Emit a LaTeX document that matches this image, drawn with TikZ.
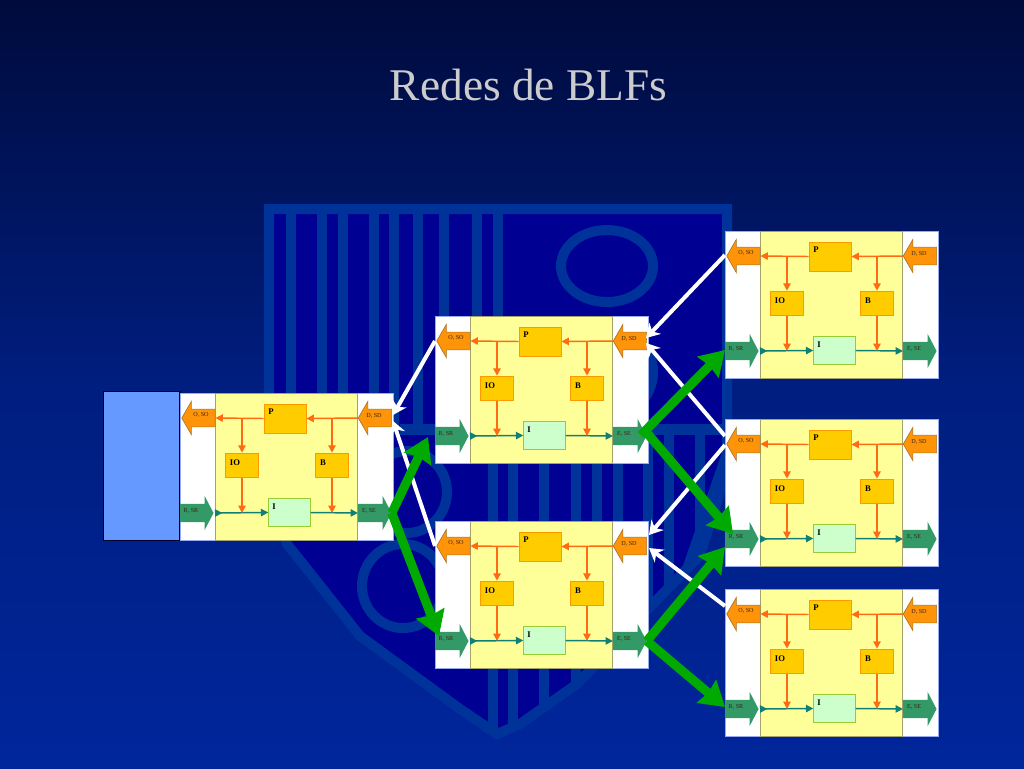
\documentclass[tikz,border=0pt]{standalone}
\usepackage{fontspec}
\setmainfont{Liberation Serif}
\usetikzlibrary{arrows.meta,shapes.arrows}
\definecolor{bgtop}{HTML}{000B3C}
\definecolor{bgbot}{HTML}{00269C}
\definecolor{crestfill}{HTML}{000092}
\definecolor{crestline}{HTML}{003399}
\definecolor{panelline}{HTML}{99AAEE}
\definecolor{coreyellow}{HTML}{FFFF99}
\definecolor{coreline}{HTML}{A3A36B}
\definecolor{boxgold}{HTML}{FFCC00}
\definecolor{boxline}{HTML}{FF9900}
\definecolor{mintfill}{HTML}{CCFFCC}
\definecolor{mintline}{HTML}{99CC33}
\definecolor{sdorange}{HTML}{FF9408}
\definecolor{sdline}{HTML}{A8752A}
\definecolor{srgreen}{HTML}{339966}
\definecolor{wireorange}{HTML}{FF6A13}
\definecolor{wireteal}{HTML}{0F8076}
\definecolor{biggreen}{HTML}{00AA00}
\definecolor{hostblue}{HTML}{6699FF}
\tikzset{
  outarrow/.style={single arrow,draw=sdline,line width=.5pt,fill=sdorange,shape border rotate=180,
    minimum height=25pt,inner xsep=0pt,inner ysep=6.4pt,single arrow head extend=5.8pt,single arrow tip angle=120},
  inarrow/.style={single arrow,fill=srgreen,
    minimum height=25pt,inner xsep=0pt,inner ysep=6.6pt,single arrow head extend=6pt,single arrow tip angle=125},
  tiny label/.style={font=\fontsize{4.6}{5}\selectfont,text=black!70!brown,inner sep=0pt},
  goldbox/.style={draw=boxline,line width=.7pt,fill=boxgold},
  box label/.style={font=\fontsize{6.5}{7}\selectfont\bfseries,inner sep=0pt},
  orangewire/.style={draw=wireorange,line width=1.1pt,-{Triangle[length=5.5pt,width=5.5pt]}},
  tealwire/.style={draw=wireteal,line width=1.1pt,-{Triangle[length=5.5pt,width=5.5pt]}},
  whitelink/.style={draw=white,line width=3pt,-{Stealth[length=10pt,width=12pt]}},
  greenlink/.style={draw=biggreen,line width=6.8pt,-{Stealth[length=18pt,width=22pt,inset=1.5pt]}},
  blfmod/.pic={
    \node[draw=panelline,line width=.5pt,fill=white,minimum width=159.75pt,minimum height=110.25pt,inner sep=0pt,anchor=north west] (-panel) at (0,0) {};
    \node[draw=coreline,line width=.6pt,fill=coreyellow,minimum width=106.5pt,minimum height=110.25pt,inner sep=0pt,anchor=north west] (-core) at (35,0) {};
    \node[outarrow] (-so) at (21,25) {};
    \node[outarrow] (-sd) at (197.5,25) {};
    \node[inarrow] (-sr) at (14.5,120) {};
    \node[inarrow] (-se) at (192.5,120) {};
    \node[tiny label] (-solabel) at (21,22) {O, SO};
    \node[tiny label] (-sdlabel) at (194,23) {D, SD};
    \node[tiny label] (-srlabel) at (11,118) {R, SR};
    \node[tiny label] (-selabel) at (189,118) {E, SE};
    \node[goldbox,minimum width=31.5pt,minimum height=21.75pt,inner sep=0pt] (-p) at (105,25.5) {};
    \node[goldbox,minimum width=25pt,minimum height=18.5pt,inner sep=0pt] (-io) at (62,72.5) {};
    \node[goldbox,minimum width=25pt,minimum height=18.5pt,inner sep=0pt] (-b) at (152,72.5) {};
    \node[draw=mintline,line width=.8pt,fill=mintfill,minimum width=31pt,minimum height=21.5pt,inner sep=0pt] (-i) at (109.5,119.5) {};
    \node[box label] at (91,19) {P};
    \node[box label] at (55,70) {IO};
    \node[box label] at (143,70) {B};
    \node[box label] at (94,114) {I};
    \coordinate (-iotop) at (62,25);
    \coordinate (-btop) at (152,25);
    \coordinate (-iobot) at (62,120);
    \coordinate (-bbot) at (152,120);
    \draw[tealwire,{Triangle[reversed,length=5.5pt,width=5.5pt]}-{Triangle[length=5.5pt,width=5.5pt]}] (35,120) -- (-i.west);
    \draw[tealwire] (-i.east) -- (-se.tail);
    \draw[orangewire] (-sd.tip) -- (-p.east);
    \draw[orangewire] (-p.west) -- (-so.tail);
    \draw[orangewire] (-iotop) -- (-io.north);
    \draw[orangewire] (-btop) -- (-b.north);
    \draw[orangewire] (-io.south) -- (-iobot);
    \draw[orangewire] (-b.south) -- (-bbot);
  }
}
\begin{document}
\begin{tikzpicture}[x=.75pt,y=-.75pt]
  \useasboundingbox (0,0) rectangle (1024,768);
  \shade[top color=bgtop,bottom color=bgbot,middle color=bgbot!70!bgtop] (0,0) rectangle (1024,768);
  % crest
  \def\crestpath{(269,209) -- (727,209) -- (727,470) -- (700,555) -- (650,607) -- (577,684) -- (520,724) -- (497,734) -- (460,709) -- (360,636) -- (303,564) -- (287,544) -- (269,480) -- cycle}
  \fill[crestfill] \crestpath;
  \begin{scope}
    \clip \crestpath;
    \foreach \x in {291,321.5,342.5,373.5,394,418,444,477,498}
      \draw[crestline,line width=7.5pt] (\x,209) -- (\x,430);
    \foreach \x in {493,513,544,576,597,618,648,669,700}
      \draw[crestline,line width=7.5pt] (\x,430) -- (\x,740);
    \draw[crestline,line width=8pt] (400,429.5) -- (727,429.5);
    \draw[crestline,line width=6pt] (727,450) -- (683,578);
  \end{scope}
  \draw[crestline,line width=7.5pt] \crestpath;
  \draw[crestline,line width=7.5pt] (607,266) ellipse (46 and 36);
  \draw[crestline,line width=7.5pt] (607,372) ellipse (46 and 45);
  \draw[crestline,line width=7.5pt] (407,492) ellipse (40 and 41);
  \draw[crestline,line width=7.5pt] (403,586) ellipse (41 and 42);
  \node[font=\fontsize{34}{40}\selectfont,text=black!20] (title) at (528.5,85) {Redes de BLFs};
  % host and modules
  \node[draw=black!85!blue,line width=1pt,fill=hostblue,minimum width=57.5pt,minimum height=112pt,inner sep=0pt,anchor=north west] (host) at (102.5,390.5) {};
  \pic (m1) at (180,393) {blfmod};
  \pic (m2) at (435,316) {blfmod};
  \pic (m3) at (435,521) {blfmod};
  \pic (m4) at (725,231) {blfmod};
  \pic (m5) at (725,419) {blfmod};
  \pic (m6) at (725,589) {blfmod};
  % free ends of the links
  \coordinate (wa) at (725,255);
  \coordinate (wb) at (646,338);
  \coordinate (wc) at (725,436);
  \coordinate (wd) at (646,343);
  \coordinate (we) at (725,445);
  \coordinate (wf) at (649,535);
  \coordinate (wg) at (725,606);
  \coordinate (wh) at (649,548);
  \coordinate (wi) at (435,341);
  \coordinate (wj) at (393,415);
  \coordinate (wk) at (435,546);
  \coordinate (wl) at (393,421);
  \draw[whitelink] (wa) -- (wb);
  \draw[whitelink] (wc) -- (wd);
  \draw[whitelink] (we) -- (wf);
  \draw[whitelink] (wg) -- (wh);
  \draw[whitelink] (wi) -- (wj);
  \draw[whitelink] (wk) -- (wl);
  \coordinate (ga) at (428,437);
  \coordinate (gb) at (439,636);
  \coordinate (gc) at (725,350);
  \coordinate (gd) at (733,534);
  \coordinate (ge) at (725,547);
  \coordinate (gf) at (725,707);
  \coordinate (m2start) at (641,435);
  \coordinate (m2startb) at (647,433);
  \draw[greenlink] (m1-se.tip) -- (ga);
  \draw[greenlink] (m1-se.tip) -- (gb);
  \draw[greenlink] (m2start) -- (gc);
  \draw[greenlink] (m2startb) -- (gd);
  \draw[greenlink] (m3-se.tip) -- (ge);
  \draw[greenlink] (m3-se.tip) -- (gf);
\end{tikzpicture}
\end{document}
